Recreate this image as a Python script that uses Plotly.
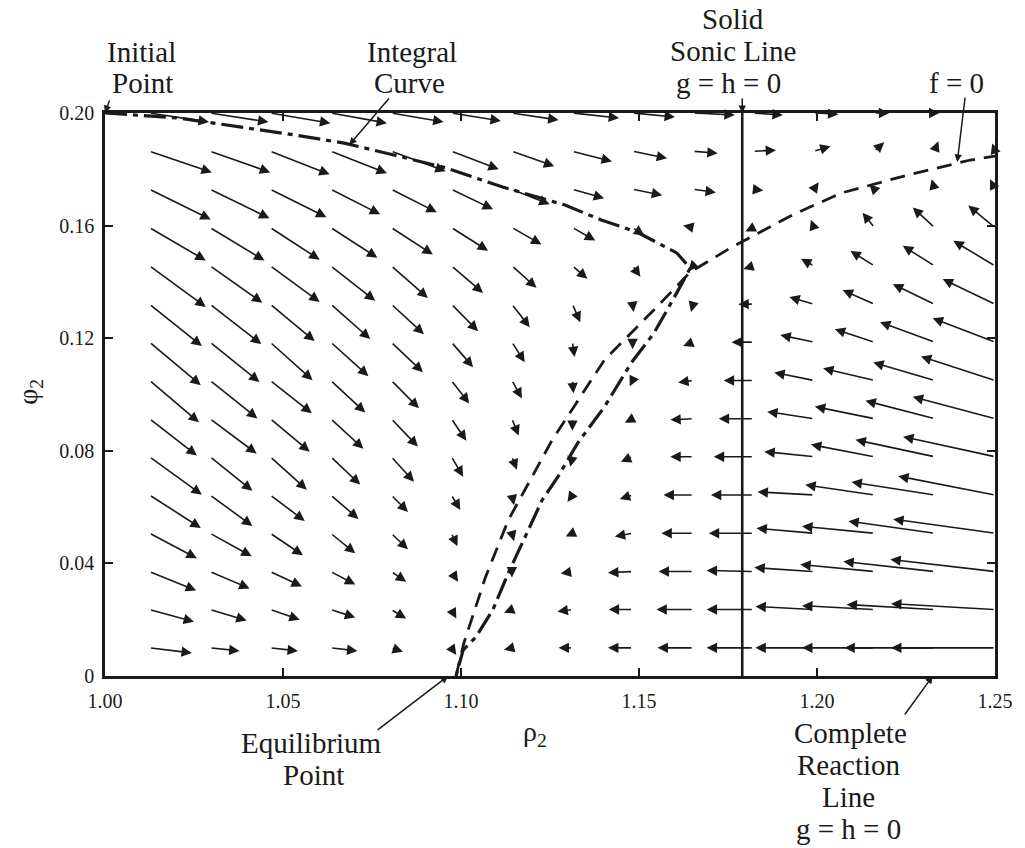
import plotly.graph_objects as go

# ---------------- data ----------------
# grid of the direction field
rho_grid = [1.0125, 1.0295, 1.0464, 1.0634, 1.0804, 1.0973, 1.1143, 1.1313,
            1.1482, 1.1652, 1.1821, 1.1991, 1.2161, 1.2330, 1.2500]
phi_grid = [0.0100, 0.0236, 0.0371, 0.0507, 0.0643, 0.0779, 0.0914, 0.1050,
            0.1186, 0.1321, 0.1457, 0.1593, 0.1729, 0.1864, 0.2000]

FIELD_UNIT = 1e-4  # field components below are in units of 1e-4
# rows follow phi_grid (bottom -> top), columns follow rho_grid
d_rho = [
    [119, 83, 78, 75, 33, 14, -22, -39, -69, -100, -131, -164, -203, -253, -292],
    [125, 103, 83, 69, 42, 14, -22, -42, -67, -103, -131, -164, -203, -247, -292],
    [131, 111, 89, 69, 42, 19, 0, -33, -69, -97, -131, -167, -208, -256, -294],
    [133, 117, 92, 69, 47, 17, 6, -19, -50, -89, -125, -161, -203, -242, -286],
    [144, 119, 97, 78, 47, 25, 6, -14, -36, -83, -119, -158, -194, -233, -272],
    [147, 119, 103, 83, 64, 33, 14, -6, -33, -64, -111, -139, -178, -222, -258],
    [133, 131, 111, 92, 75, 42, 19, 0, -22, -64, -97, -131, -167, -194, -231],
    [139, 133, 117, 97, 78, 50, 28, 3, -8, -42, -83, -111, -144, -172, -208],
    [144, 139, 119, 106, 89, 61, 36, 6, 0, -28, -61, -94, -111, -153, -175],
    [147, 144, 125, 111, 92, 75, 50, 22, 3, -6, -42, -69, -89, -117, -147],
    [158, 147, 139, 125, 103, 89, 69, 42, 22, -14, -28, -36, -67, -89, -117],
    [158, 153, 139, 131, 117, 103, 83, 64, 33, -28, -22, -8, -33, -61, -75],
    [172, 167, 158, 139, 128, 117, 106, 89, 83, 64, 28, 14, -14, -8, -14],
    [175, 169, 167, 158, 153, 133, 119, 111, 97, 69, 64, 47, 28, 11, -8],
    [167, 164, 169, 158, 147, 139, 131, 131, 119, 117, 83, 69, 42, 14, 0],
]
d_phi = [
    [-18, -11, -11, -11, -14, -25, -7, 0, 0, 0, 0, 0, 0, 0, 0],
    [-43, -39, -36, -28, -32, -32, -11, -7, 0, 0, 0, 11, 14, 18, 21],
    [-67, -60, -53, -46, -36, -36, -21, -7, -4, 0, 4, 14, 25, 36, 43],
    [-89, -82, -78, -71, -57, -46, -28, -11, -11, 0, 0, 18, 25, 43, 50],
    [-117, -110, -92, -85, -60, -53, -36, -25, -14, 0, 0, 11, 36, 46, 67],
    [-135, -121, -117, -99, -89, -71, -46, -36, -18, 0, 0, 18, 43, 60, 71],
    [-131, -124, -117, -107, -99, -78, -60, -43, -14, -4, 0, 25, 43, 64, 78],
    [-149, -135, -117, -114, -99, -82, -64, -46, -21, -7, 0, 28, 43, 64, 85],
    [-153, -142, -135, -121, -107, -89, -71, -53, -25, -14, 0, 25, 46, 71, 85],
    [-149, -142, -131, -124, -107, -96, -82, -64, -28, -28, 0, 25, 50, 71, 89],
    [-146, -131, -128, -124, -114, -96, -78, -46, -39, -18, -11, 25, 53, 71, 89],
    [-117, -117, -114, -107, -96, -82, -60, -46, -28, 7, -14, 28, 53, 71, 78],
    [-107, -103, -99, -89, -82, -71, -53, -32, -21, -11, -4, 25, 18, 36, 36],
    [-75, -75, -82, -78, -71, -64, -53, -36, -25, -7, 4, 18, 32, 36, 28],
    [-32, -32, -36, -36, -32, -28, -25, -18, -14, -7, -7, -4, 0, 0, 0],
]

# integral curve (initial point -> turning point -> equilibrium point)
rho_integral = [1.0, 1.0208, 1.0533, 1.0672, 1.0811, 1.0958, 1.1117, 1.1292, 1.1394,
                1.1494, 1.1606, 1.1644, 1.1606, 1.1542, 1.1478, 1.1403, 1.1328,
                1.1272, 1.1228, 1.1172, 1.1133, 1.1089, 1.1042, 1.1006, 1.0986]
phi_integral = [0.2000, 0.1982, 0.1922, 0.1893, 0.1851, 0.1805, 0.1737, 0.1673, 0.1620,
                0.1577, 0.1503, 0.1449, 0.1361, 0.1218, 0.1112, 0.0956, 0.0828,
                0.0707, 0.0625, 0.0472, 0.0366, 0.0234, 0.0139, 0.0092, 0.0]

# f = 0 curve
rho_f0 = [1.0986, 1.1008, 1.1069, 1.1133, 1.1256, 1.1403, 1.1550, 1.1644, 1.1756,
          1.1931, 1.2069, 1.2256, 1.2431, 1.2500]
phi_f0 = [0.0, 0.0117, 0.0352, 0.0554, 0.0838, 0.1123, 0.1311, 0.1435, 0.1520,
          0.1638, 0.1716, 0.1780, 0.1833, 0.1847]

# solid sonic line g = h = 0
rho_sonic = 1.179
phi_range = [0.0, 0.2]

x_ticks = [1.00, 1.05, 1.10, 1.15, 1.20, 1.25]
x_ticktext = ["1.00", "1.05", "1.10", "1.15", "1.20", "1.25"]
y_ticks = [0.0, 0.04, 0.08, 0.12, 0.16, 0.20]
y_ticktext = ["0", "0.04", "0.08", "0.12", "0.16", "0.20"]

# ---------------- figure ----------------
INK = "#1a1a1a"
FONT = "Liberation Serif"

fig = go.Figure()

fig.add_trace(go.Scatter(x=[rho_sonic, rho_sonic], y=phi_range, mode="lines",
                         line=dict(color=INK, width=2.6), hoverinfo="skip",
                         showlegend=False))
fig.add_trace(go.Scatter(x=rho_f0, y=phi_f0, mode="lines",
                         line=dict(color=INK, width=2.8, dash="15px,9px"),
                         hoverinfo="skip", showlegend=False))
fig.add_trace(go.Scatter(x=rho_integral, y=phi_integral, mode="lines",
                         line=dict(color=INK, width=3.2, dash="22px,6px,5px,6px"),
                         hoverinfo="skip", showlegend=False))

annotations = []
# direction-field arrows
for i, phi in enumerate(phi_grid):
    for j, rho in enumerate(rho_grid):
        u = d_rho[i][j]
        v = d_phi[i][j]
        if u == 0 and v == 0:
            continue
        annotations.append(dict(
            x=rho + u * FIELD_UNIT, y=phi + v * FIELD_UNIT,
            ax=rho, ay=phi, xref="x", yref="y", axref="x", ayref="y",
            text="", showarrow=True, arrowhead=2, arrowsize=1.3,
            arrowwidth=1.6, arrowcolor=INK))


def px2paper(px, py):
    return (px - 105) / 900.0, (676 - py) / 563.0


def label(text, px, py, size=29):
    xp, yp = px2paper(px, py)
    annotations.append(dict(x=xp, y=yp, xref="paper", yref="paper", text=text,
                            showarrow=False, xanchor="center", yanchor="middle",
                            font=dict(family=FONT, size=size, color=INK)))


label("Initial", 142, 52)
label("Point", 143, 83)
label("Integral", 415, 52)
label("Curve", 413, 83)
label("Solid", 740, 19)
label("Sonic Line", 740, 51)
label("g = h = 0", 736, 83)
label("f = 0", 966, 83)
label("Equilibrium", 314, 743)
label("Point", 316, 775)
label("Complete", 859, 733)
label("Reaction", 857, 765)
label("Line", 857, 797)
label("g = h = 0", 857, 829)
label("ρ<sub>2</sub>", 540, 733, size=28)

xp, yp = px2paper(28, 392)
annotations.append(dict(x=xp, y=yp, xref="paper", yref="paper", text="φ<sub>2</sub>",
                        textangle=-90, showarrow=False, xanchor="center",
                        yanchor="middle", font=dict(family=FONT, size=28, color=INK)))

# pointer arrows for labels (head in data space, tail offset in pixels)
pointers = [
    (1.0, 0.2, 5, -14),
    (1.0686, 0.1886, 41, -48),
    (rho_sonic, 0.2, 0, -16),
    (1.2394, 0.1826, 8, -66),
    (1.0964, 0.0, -72, 55),
    (1.2325, 0.0, -29, 40),
]
for hx, hy, ox, oy in pointers:
    annotations.append(dict(x=hx, y=hy, xref="x", yref="y", ax=ox, ay=oy,
                            text="", showarrow=True, arrowhead=2, arrowsize=1.0,
                            arrowwidth=1.5, arrowcolor=INK))

fig.update_layout(
    width=1025, height=848,
    margin=dict(l=105, r=20, t=113, b=172),
    paper_bgcolor="white", plot_bgcolor="white",
    showlegend=False,
    annotations=annotations,
    font=dict(family=FONT, color=INK),
)
fig.update_xaxes(range=[1.0, 1.25], tickvals=x_ticks, ticktext=x_ticktext,
                 ticks="inside", ticklen=8, tickwidth=1.5, tickcolor=INK,
                 showline=True, linecolor=INK, linewidth=2.5, mirror="ticks",
                 showgrid=False, zeroline=False, ticklabelstandoff=5,
                 tickfont=dict(family=FONT, size=20, color=INK))
fig.update_yaxes(range=[0.0, 0.2], tickvals=y_ticks, ticktext=y_ticktext,
                 ticks="inside", ticklen=8, tickwidth=1.5, tickcolor=INK,
                 showline=True, linecolor=INK, linewidth=2.5, mirror="ticks",
                 showgrid=False, zeroline=False, ticklabelstandoff=4,
                 tickfont=dict(family=FONT, size=20, color=INK))

fig.write_html("out.html")
